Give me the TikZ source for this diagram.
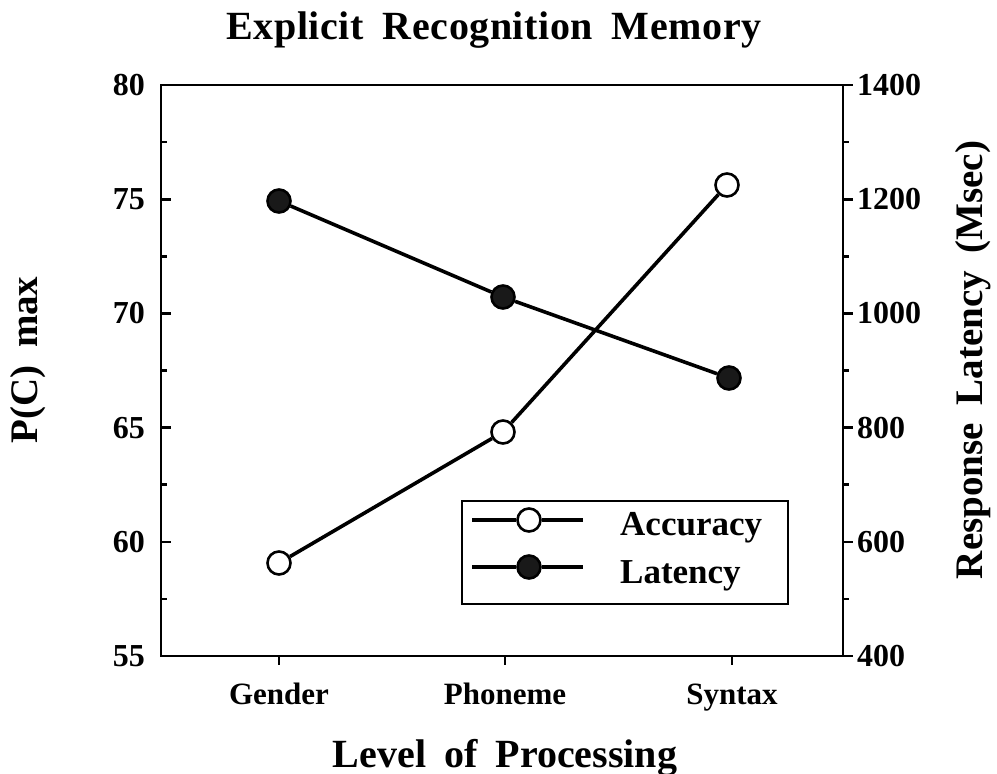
\documentclass[tikz,border=0pt]{standalone}
\usepackage{fontspec}
\setmainfont{Liberation Serif}[WordSpace=1.8]
\newcommand{\fsz}[1]{\fontsize{#1}{1.2\dimexpr#1pt\relax}\selectfont\bfseries}
\begin{document}
\begin{tikzpicture}[x=1pt, y=-1pt,
  every node/.style={inner sep=0pt},
  ticklab/.style={font=\fsz{32}},
  catlab/.style={font=\fsz{31}, anchor=base},
  axlab/.style={font=\fsz{39}},
  keylab/.style={font=\fsz{35}, anchor=base west},
  frame/.style={line width=2.6pt},
  dataline/.style={line width=3.6pt},
  openmark/.style={circle, draw, line width=2.6pt, fill=white, minimum size=23pt},
  fullmark/.style={circle, draw, line width=2.6pt, fill=black!90, minimum size=23pt}]
\useasboundingbox (0,0) rectangle (997,774);
% axes
\coordinate (TL) at (161,85);
\coordinate (BR) at (843,656);
\draw[frame] (TL) rectangle (BR);
\foreach \y/\lab/\rlab in {85/80/1400, 199.2/75/1200, 313.4/70/1000, 427.6/65/800, 541.8/60/600, 656/55/400} {
  \draw[frame] (161,\y) -- (171,\y);
  \draw[frame] (843,\y) -- (853,\y);
  \node[ticklab, anchor=east] at (145,\y) {\lab};
  \node[ticklab, anchor=west] at (857,\y) {\rlab};
}
\foreach \y in {142.1, 256.3, 370.5, 484.7, 598.9} {
  \draw[frame] (161,\y) -- (167,\y);
  \draw[frame] (843,\y) -- (849,\y);
}
\foreach \x/\lab in {279/Gender, 505/Phoneme, 732/Syntax} {
  \draw[frame] (\x,656) -- (\x,665);
  \node[catlab] at (\x,704) {\lab};
}
% labels
\node[font=\fsz{40}\addfontfeatures{LetterSpace=1.4}, anchor=base] (title) at (494,39) {Explicit Recognition Memory};
\node[font=\fsz{40}, anchor=base] (xlab) at (505,767) {Level of Processing};
\node[axlab, rotate=90] (ylab) at (28,360) {P(C) max};
\node[axlab, rotate=90] (rlab) at (973,360) {Response Latency (Msec)};
% latency
\node[fullmark] (latG) at (279,201) {};
\node[fullmark] (latP) at (503,297) {};
\node[fullmark] (latS) at (729,378) {};
\draw[dataline] (latG) -- (latP) -- (latS);
% accuracy
\node[openmark] (accG) at (279,563) {};
\node[openmark] (accP) at (503,432) {};
\node[openmark] (accS) at (727,185) {};
\draw[dataline] (accG) -- (accP) -- (accS);
% legend
\draw[frame] (462,501) rectangle (788,604);
\coordinate (accA) at (472,520);
\coordinate (accB) at (583,520);
\node[openmark] (accKey) at (529,520) {};
\draw[dataline] (accA) -- (accKey) -- (accB);
\coordinate (latA) at (472,567);
\coordinate (latB) at (583,567);
\node[fullmark] (latKey) at (529,567) {};
\draw[dataline] (latA) -- (latKey) -- (latB);
\node[keylab] (accText) at (620,535) {Accuracy};
\node[keylab] (latText) at (620,583) {Latency};
\end{tikzpicture}
\end{document}
